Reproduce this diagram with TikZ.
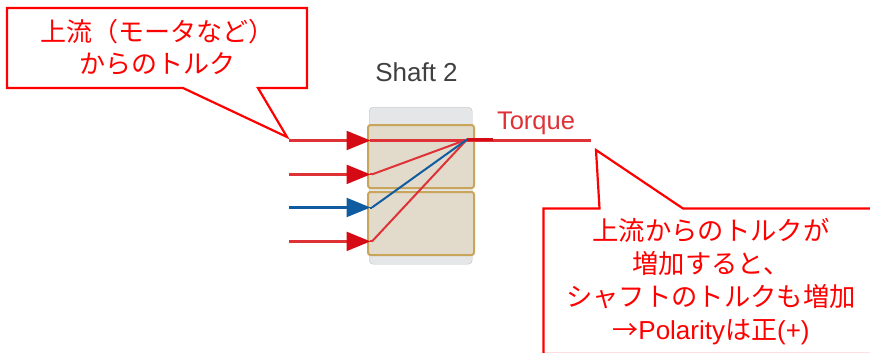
\documentclass[tikz,border=0pt]{standalone}
\usepackage{fontspec}
\setmainfont{Liberation Sans}
\newfontfamily\jpfont{Noto Sans CJK JP}[Scale=1.0]
\usetikzlibrary{arrows.meta}
\definecolor{callred}{RGB}{255,0,0}
\definecolor{sigred}{RGB}{222,50,55}
\definecolor{headred}{RGB}{214,10,20}
\definecolor{sigblue}{RGB}{16,92,160}
\definecolor{boxfill}{RGB}{226,218,203}
\definecolor{boxedge}{RGB}{200,165,90}
\definecolor{backfill}{RGB}{228,230,232}
\tikzset{
  calloutline/.style={draw=callred,line width=2.2pt,line join=miter,fill=white},
  calltext/.style={text=callred,align=center,inner sep=0pt,font=\jpfont\fontsize{26}{32.5}\selectfont},
  shaftbox/.style={draw=boxedge,line width=2pt,fill=boxfill,rounded corners=2.5pt,anchor=north west,inner sep=0pt},
  backbox/.style={draw=backfill!85!black,line width=.4pt,fill=backfill,rounded corners=4pt,anchor=north west,inner sep=0pt},
  sigline/.style={line width=2.2pt,shorten >=-1pt},
  redtip/.style={-{Triangle[length=24pt,width=19pt,color=headred]}},
  bluetip/.style={-{Triangle[length=24pt,width=19pt,color=sigblue]}},
  mixline/.style={line width=2pt},
  sigtext/.style={inner sep=0pt}
}
\begin{document}
\begin{tikzpicture}[x=1pt,y=-1pt]
\useasboundingbox (0,0) rectangle (870,353);
% callouts
\draw[calloutline] (7,8) -- (307,8) -- (307,88) -- (258,88) -- (287,137) -- (183,88) -- (7,88) -- cycle;
\node[calltext] (c1) at (157,47) {上流（モータなど）\\からのトルク};
\draw[calloutline] (543.5,354) -- (543.5,208.5) -- (599.5,208.5) -- (596,150) -- (683,208.5) -- (872,208.5) -- (872,354) -- cycle;
\node[calltext,font=\jpfont\fontsize{26.3}{33}\selectfont] (c2) at (711,282) {上流からのトルクが\\増加すると、\\シャフトのトルクも増加\\\fontsize{26}{33}\selectfont →{\rmfamily Polarity}は正{\rmfamily (+)}};
% shaft
\node[backbox,minimum width=103pt,minimum height=157pt] (back) at (369,107) {};
\node[shaftbox,minimum width=106pt,minimum height=63pt] (top) at (367,124) {};
\node[shaftbox,minimum width=106pt,minimum height=63pt] (bot) at (367,191) {};
\node[sigtext,text=black!75,font=\fontsize{26}{30}\selectfont] (title) at (416.5,72) {Shaft 2};
\node[sigtext,text=sigred,font=\fontsize{25.5}{28}\selectfont] (torque) at (536,123) {Torque};
% ports
\coordinate (i1) at (289,140.5);
\coordinate (i2) at (289,174.4);
\coordinate (i3) at (289,207.5);
\coordinate (i4) at (289,241.4);
\coordinate (a1) at (369.5,140.5);
\coordinate (a2) at (369.5,174.4);
\coordinate (a3) at (369.5,207.5);
\coordinate (a4) at (369.5,241.4);
\coordinate (b2) at (372,174.4);
\coordinate (b3) at (372,207.5);
\coordinate (b4) at (372,241.4);
\coordinate (j) at (467,139.5);
\coordinate (j2) at (493,139.5);
\coordinate (j3) at (467,140.5);
\coordinate (o) at (590.5,140.5);
% mixing lines
\draw[sigline,shorten >=0pt,sigred] (a1) -- (j3);
\draw[mixline,sigred] (b2) -- (j);
\draw[mixline,sigred] (b4) -- (j);
\draw[mixline,sigblue] (b3) -- (j);
% outputs
\draw[line width=2.2pt,sigred] (j3) -- (o);
\draw[line width=3.2pt,headred] (j) -- (j2);
% inputs
\draw[mixline,sigred] (a2) -- (b2);
\draw[mixline,sigblue] (a3) -- (b3);
\draw[mixline,sigred] (a4) -- (b4);
\draw[sigline,sigred,redtip] (i1) -- (a1);
\draw[sigline,sigred,redtip] (i2) -- (a2);
\draw[sigline,sigblue,bluetip] (i3) -- (a3);
\draw[sigline,sigred,redtip] (i4) -- (a4);
\end{tikzpicture}
\end{document}
